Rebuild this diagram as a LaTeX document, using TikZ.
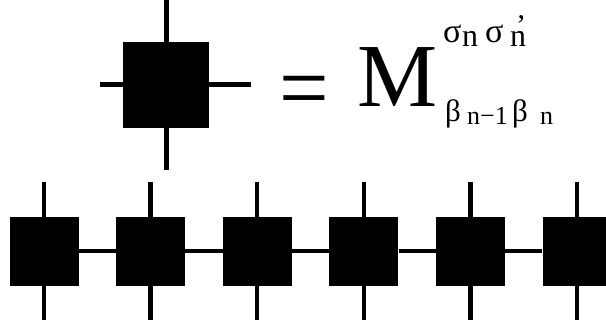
\documentclass[tikz,border=0pt]{standalone}
\usepackage{fontspec}
\setmainfont{Liberation Serif}
\usetikzlibrary{positioning}

\tikzset{
  tensor/.style={rectangle, fill=black, inner sep=0pt, minimum width=#1, minimum height=#1},
  leg/.style={line width=5pt},
  stub/.style={line width=4.5pt},
  bond/.style={line width=4pt},
  sym/.style={anchor=base west, inner sep=0pt, font=\fontsize{#1}{#1}\selectfont},
}

\begin{document}
\begin{tikzpicture}[x=1pt, y=-1pt]
  \useasboundingbox (0,0) rectangle (606,326);

  % single tensor with its four legs
  \begin{scope}
    \node[tensor=86pt] (M) at (166,85) {};
    \coordinate (Mup) at (166,0);
    \coordinate (Mdown) at (166,170);
    \coordinate (Mleft) at (100,85);
    \coordinate (Mright) at (251,85);
    \draw[leg] (M.north) -- (Mup);
    \draw[leg] (M.south) -- (Mdown);
    \draw[leg] (M.west) -- (Mleft);
    \draw[leg] (M.east) -- (Mright);
  \end{scope}

  % = M with indices
  \node[sym=88] (eq) at (279,121) {\scalebox{1}[1.1]{=}};
  \node[sym=90] (bigM) at (357,107) {M};
  \node[sym=34] (s1) at (443,43) {σ};
  \node[sym=32] (n1) at (462,47) {n};
  \node[sym=34] (s2) at (485,43) {σ};
  \node[sym=32] (n2) at (510,47) {n};
  \node[sym=30] (pr) at (516,36) {’};
  \node[sym=31] (b1) at (445,122) {β};
  \node[sym=26] (n3) at (467,125) {n−1};
  \node[sym=31] (b2) at (512,122) {β};
  \node[sym=26] (n4) at (540,125) {n};

  % chain of tensors
  \foreach \i in {1,...,6} {
    \node[tensor=69pt] (t\i) at ({44+(\i-1)*106.6},251.5) {};
    \coordinate (u\i) at ({44+(\i-1)*106.6},182);
    \coordinate (d\i) at ({44+(\i-1)*106.6},320);
    \draw[stub] (t\i.north) -- (u\i);
    \draw[stub] (t\i.south) -- (d\i);
  }
  \foreach \i/\j in {1/2,2/3,3/4,4/5,5/6}
    \draw[bond] (t\i) -- (t\j);
\end{tikzpicture}
\end{document}
